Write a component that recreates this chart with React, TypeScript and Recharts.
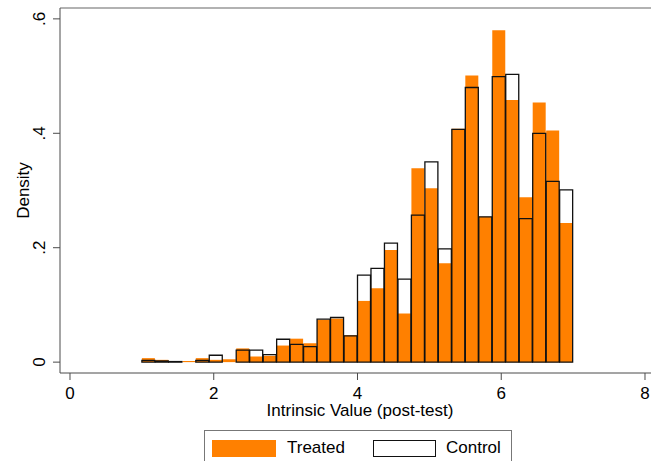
import React from "react";
import { Bar, ComposedChart, Legend, ReferenceLine, XAxis, YAxis } from "recharts";

// bin midpoints (bins of width 0.1875 from 1 to 7)
const binMids = [
  1.0938, 1.2813, 1.4688, 1.6563, 1.8438, 2.0313, 2.2188, 2.4063, 2.5938, 2.7813, 2.9688,
  3.1563, 3.3438, 3.5313, 3.7188, 3.9063, 4.0938, 4.2813, 4.4688, 4.6563, 4.8438, 5.0313,
  5.2188, 5.4063, 5.5938, 5.7813, 5.9688, 6.1563, 6.3438, 6.5313, 6.7188, 6.9063,
];

const treated = [
  0.007, 0.004, 0, 0.002, 0.007, 0.004, 0.005, 0.024, 0.01, 0.011, 0.029, 0.041, 0.033,
  0.074, 0.076, 0.047, 0.107, 0.129, 0.196, 0.085, 0.339, 0.304, 0.173, 0.408, 0.501, 0.254,
  0.58, 0.458, 0.288, 0.454, 0.405, 0.243,
];

const control = [
  0.003, 0.002, 0.001, 0, 0.003, 0.012, 0, 0.021, 0.021, 0.013, 0.04, 0.031, 0.027, 0.075,
  0.078, 0.046, 0.152, 0.164, 0.208, 0.145, 0.257, 0.35, 0.198, 0.407, 0.48, 0.254, 0.499,
  0.503, 0.251, 0.4, 0.316, 0.301,
];

const xTicks = [0, 2, 4, 6, 8];
const yTicks = [0, 0.2, 0.4, 0.6];
const xDomain: [number, number] = [-0.1391, 8.2087];
const yDomain: [number, number] = [-0.019, 0.619];

const data = binMids.map((x, i) => ({ x, treated: treated[i], control: control[i] }));

const FONT = '"Liberation Sans", Arial, sans-serif';
const AXIS = "#4a4a4a";
const ORANGE = "#ff8000";

function fmtY(v: number) {
  return v === 0 ? "0" : String(v).replace(/^0/, "");
}

function LegendBox() {
  return (
    <div
      style={{
        boxSizing: "border-box",
        width: 308,
        height: 36,
        border: "1px solid #777",
        display: "flex",
        alignItems: "center",
        paddingLeft: 7,
        fontFamily: FONT,
        fontSize: 17,
        color: "#000",
        background: "#fff",
      }}
    >
      <span style={{ width: 64, height: 17, background: ORANGE, marginRight: 11 }} />
      <span style={{ marginRight: 28 }}>Treated</span>
      <span
        style={{
          boxSizing: "border-box",
          width: 63,
          height: 17,
          border: "1.5px solid #111",
          marginRight: 10,
        }}
      />
      <span>Control</span>
    </div>
  );
}

export default function App() {
  return (
    <div
      style={{
        position: "absolute",
        left: 0,
        top: 0,
        width: 651,
        height: 461,
        overflow: "hidden",
        background: "#fff",
      }}
    >
      <ComposedChart
        width={660}
        height={461}
        data={data}
        margin={{ top: 8, right: 0, bottom: 0, left: 0 }}
        barCategoryGap={0}
        barGap={0}
        style={{ fontFamily: FONT }}
      >
        <XAxis
          xAxisId="main"
          dataKey="x"
          type="number"
          domain={xDomain}
          allowDataOverflow
          ticks={xTicks}
          height={88}
          tickSize={7}
          tickMargin={7}
          stroke={AXIS}
          tick={{ fill: "#000", fontSize: 17 }}
          label={{
            value: "Intrinsic Value (post-test)",
            position: "insideTop",
            offset: 31,
            fill: "#000",
            fontSize: 17,
          }}
        />
        <XAxis
          xAxisId="ctrl"
          dataKey="x"
          type="number"
          domain={xDomain}
          allowDataOverflow
          height={0}
          hide
        />
        <YAxis
          type="number"
          domain={yDomain}
          allowDataOverflow
          ticks={yTicks}
          width={60}
          tickSize={7}
          tickMargin={14}
          stroke={AXIS}
          tickFormatter={fmtY}
          tick={{ fill: "#000", fontSize: 17, angle: -90, textAnchor: "middle" }}
          label={{
            value: "Density",
            angle: -90,
            position: "center",
            dx: -7,
            fill: "#000",
            fontSize: 17,
          }}
        />
        <ReferenceLine xAxisId="main" y={yDomain[1]} stroke="#999" strokeWidth={1.5} />
        <Bar
          xAxisId="main"
          dataKey="treated"
          fill={ORANGE}
          isAnimationActive={false}
        />
        <Bar
          xAxisId="ctrl"
          dataKey="control"
          fill="none"
          stroke="#111"
          strokeWidth={1.3}
          isAnimationActive={false}
        />
        <Legend
          verticalAlign="middle"
          layout="horizontal"
          wrapperStyle={{ left: 204, top: 430, width: 308, height: 36 }}
          content={() => <LegendBox />}
        />
      </ComposedChart>
    </div>
  );
}
